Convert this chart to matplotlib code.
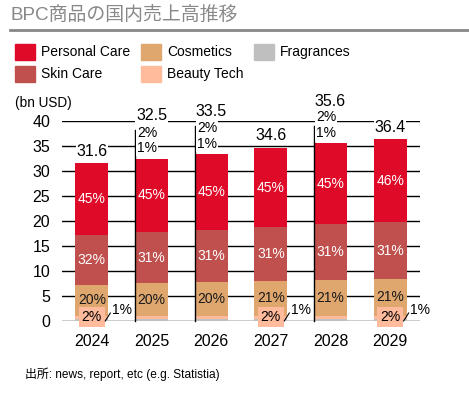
import matplotlib.pyplot as plt
from matplotlib.patches import Rectangle

plt.rcParams['font.family'] = ['Liberation Sans', 'Noto Sans CJK JP', 'DejaVu Sans']

years = ['2024', '2025', '2026', '2027', '2028', '2029']
totals = ['31.6', '32.5', '33.5', '34.6', '35.6', '36.4']

# stacked bottom to top
fragrances = [0.32, 0.33, 0.35, 0.35, 0.36, 0.36]
beauty_tech = [0.63, 0.65, 0.70, 0.70, 0.72, 0.73]
cosmetics = [6.30, 6.60, 6.75, 6.95, 7.10, 7.30]
skin_care = [10.0, 10.2, 10.4, 10.8, 11.2, 11.4]
personal_care = [14.35, 14.72, 15.3, 15.8, 16.22, 16.61]

pc_share = ['45%', '45%', '45%', '45%', '45%', '46%']
sc_share = ['32%', '31%', '31%', '31%', '31%', '31%']
cos_share = ['20%', '20%', '20%', '21%', '21%', '21%']
bt_share = ['2%'] * 6
fr_share = ['1%'] * 6

colors = {
    'Personal Care': '#DF0A28',
    'Skin Care': '#C0504D',
    'Cosmetics': '#DFA76E',
    'Beauty Tech': '#FFBB9C',
    'Fragrances': '#BFBFBF',
}

fig = plt.figure(figsize=(4.69, 3.97), dpi=100)
ax = fig.add_axes([62 / 469, 76 / 397, 358 / 469, 200 / 397])

x = list(range(len(years)))
w = 0.55
bottom = [0] * len(x)
segs = [('Fragrances', fragrances), ('Beauty Tech', beauty_tech),
        ('Cosmetics', cosmetics), ('Skin Care', skin_care),
        ('Personal Care', personal_care)]
mids = {}
for name, vals in segs:
    ax.bar(x, vals, w, bottom=bottom, color=colors[name], zorder=2)
    mids[name] = [b + v / 2 for b, v in zip(bottom, vals)]
    bottom = [b + v for b, v in zip(bottom, vals)]

for i in x:
    ax.text(i, mids['Personal Care'][i], pc_share[i], ha='center', va='center',
            color='white', fontsize=10, zorder=4)
    ax.text(i, mids['Skin Care'][i], sc_share[i], ha='center', va='center',
            color='white', fontsize=10, zorder=4)
    ax.text(i, mids['Cosmetics'][i], cos_share[i], ha='center', va='center',
            color='#1a1a1a', fontsize=10, zorder=4)

ax.set_ylim(0, 40)
ax.set_xlim(-0.5, 5.5)
ax.set_yticks(range(0, 41, 5))
ax.yaxis.grid(True, color='black', lw=1, zorder=0)
ax.set_axisbelow(True)
for s in ax.spines.values():
    s.set_visible(False)
ax.tick_params(length=0, labelsize=11.5)
ax.tick_params(axis='y', pad=8.5)
ax.set_xticks(x)
ax.set_xticklabels(years, fontsize=11.5)
ax.tick_params(axis='x', pad=9)

wbox = dict(facecolor='white', edgecolor='none', pad=0.5)

# top labels: total values
total_y = [33.8, 41.2, 42.0, 37.0, 44.0, 38.6]
for i in x:
    ax.text(i, total_y[i], totals[i], ha='center', va='center', fontsize=11.5,
            bbox=wbox, zorder=5, clip_on=False)

# small shares placed on top for 2025, 2026, 2028
top_small = {1: (37.6, 34.6, 38.2), 2: (38.6, 35.4, 39.0), 4: (40.8, 37.6, 39.0)}
for i, (y2, y1, ytop) in top_small.items():
    ax.plot([i - w / 2, i - w / 2], [0, ytop], color='black', lw=1, zorder=3,
            clip_on=False)
    ax.text(i - 0.24, y2, bt_share[i], ha='left', va='center', fontsize=10,
            bbox=wbox, zorder=5, clip_on=False)
    ax.text(i - 0.24, y1, fr_share[i], ha='left', va='center', fontsize=10,
            bbox=wbox, zorder=5, clip_on=False)

# small shares placed at bottom for 2024, 2027, 2029
for i in [0, 3, 5]:
    ax.text(i, 0.8, bt_share[i], ha='center', va='center', fontsize=10, zorder=5,
            bbox=dict(facecolor=colors['Beauty Tech'], edgecolor='none', pad=2),
            clip_on=False)
    ax.plot([i + 0.225, i + 0.31], [0.0, 1.6], color='black', lw=0.8, zorder=5,
            clip_on=False)
    ax.text(i + 0.5, 2.3, fr_share[i], ha='center', va='center', fontsize=10,
            zorder=5, clip_on=False)

# title and rule
fig.text(10 / 469, 1 - 15 / 397, 'BPC商品の国内売上高推移', fontsize=13.6,
         color='#888888', ha='left', va='center')
fig.add_artist(plt.Line2D([10 / 469, 1], [1 - 30 / 397, 1 - 30 / 397],
                          color='#888888', lw=2))

# legend
leg = [('Personal Care', 15, 52), ('Cosmetics', 141, 52), ('Fragrances', 254, 52),
       ('Skin Care', 15, 74), ('Beauty Tech', 141, 74)]
for name, lx, ly in leg:
    fig.add_artist(Rectangle((lx / 469, 1 - (ly + 8) / 397), 20 / 469, 16 / 397,
                             color=colors[name], transform=fig.transFigure))
    fig.text((lx + 26) / 469, 1 - ly / 397, name, fontsize=10,
             ha='left', va='center')

fig.text(15 / 469, 1 - 103 / 397, '(bn USD)', fontsize=9.8, ha='left', va='center')
fig.text(25 / 469, 1 - 374 / 397, '出所: news, report, etc (e.g. Statistia)',
         fontsize=8.6, ha='left', va='center')

fig.savefig('out.png', dpi=100)
